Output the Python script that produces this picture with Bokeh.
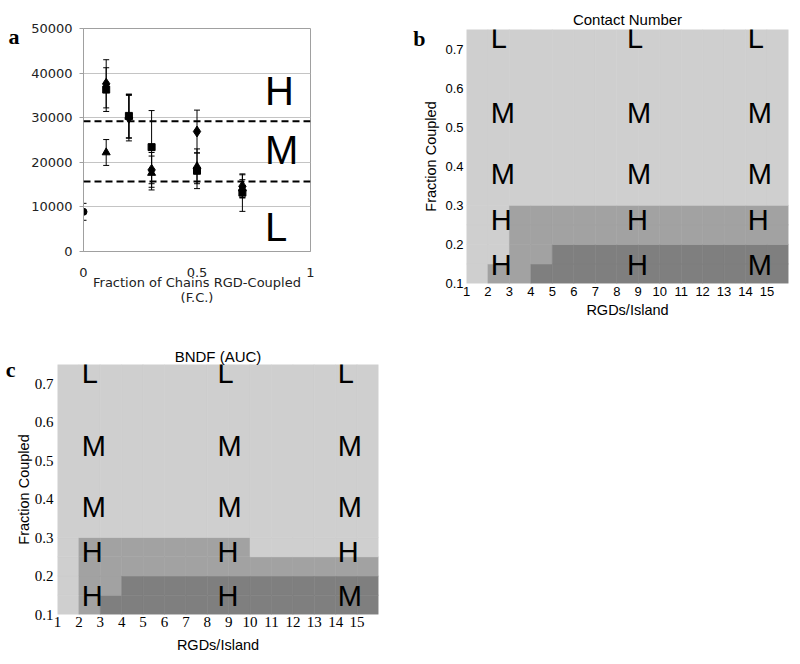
from bokeh.plotting import figure
from bokeh.models import (Range1d, Span, Whisker, TeeHead, ColumnDataSource, LinearAxis,
                          FixedTicker, NumeralTickFormatter, CustomJSTickFormatter)
from bokeh.layouts import column, row
from bokeh.core.properties import value
from bokeh.embed import file_html
from bokeh.resources import INLINE

# ---------------- Panel a data ----------------
fc = [0.1, 0.2, 0.3, 0.5, 0.7]
diamond_y = [37600, 30000, 18300, 26900, 14600]
diamond_err = [5400, 5200, 3900, 4800, 2600]
square_y = [36300, 30400, 23400, 18100, 13200]
square_err = [4900, 4900, 8200, 4000, 4200]
triangle_y = [22200, 30200, 17600, 19100, 14100]
triangle_err = [2900, 4800, 3800, 3900, 2000]
control_x = [0.0]
control_y = [8900]
control_err = [1900]
thresholds = [15700, 29200]
a_x_ticks = [0, 0.5, 1]
a_y_ticks = [0, 10000, 20000, 30000, 40000, 50000]
band_letters = ["H", "M", "L"]
band_letter_y = [36000, 22650, 5450]

# ---------------- Panels b / c data ----------------
rgd_edges = list(range(1, 17))            # RGDs/Island bins 1..16
fc_edges = [0.10, 0.15, 0.20, 0.25, 0.30, 0.75]
rgd_ticks = list(range(1, 16))
fc_ticks = [0.1, 0.2, 0.3, 0.4, 0.5, 0.6, 0.7]
# level 0 = light, 1 = medium, 2 = dark; rows bottom (0.10) to top
contact_levels = [
    [0, 1, 1, 2, 2, 2, 2, 2, 2, 2, 2, 2, 2, 2, 2],
    [0, 0, 1, 1, 2, 2, 2, 2, 2, 2, 2, 2, 2, 2, 2],
    [0, 0, 1, 1, 1, 1, 1, 1, 1, 1, 1, 1, 1, 1, 1],
    [0, 0, 1, 1, 1, 1, 1, 1, 1, 1, 1, 1, 1, 1, 1],
    [0] * 15,
]
bdnf_levels = [
    [0, 1, 2, 2, 2, 2, 2, 2, 2, 2, 2, 2, 2, 2, 2],
    [0, 1, 1, 2, 2, 2, 2, 2, 2, 2, 2, 2, 2, 2, 2],
    [0, 1, 1, 1, 1, 1, 1, 1, 1, 1, 1, 1, 1, 1, 1],
    [0, 1, 1, 1, 1, 1, 1, 1, 1, 0, 0, 0, 0, 0, 0],
    [0] * 15,
]
letter_rgd = [2.13, 8.48, 14.1]
letter_fc = [0.727, 0.537, 0.38, 0.263, 0.147]
contact_letters = [["L", "L", "L"], ["M", "M", "M"], ["M", "M", "M"],
                   ["H", "H", "H"], ["H", "H", "M"]]
bdnf_letters = [["L", "L", "L"], ["M", "M", "M"], ["M", "M", "M"],
                ["H", "H", "H"], ["H", "H", "M"]]
shades = ["#cfcfcf", "#a2a2a2", "#7f7f7f"]

SANS = "Liberation Sans"
SERIF = "Liberation Serif"


def panel_letter_axis(p, letter, y, standoff):
    ax = LinearAxis(ticker=FixedTicker(ticks=[y]),
                    formatter=CustomJSTickFormatter(code='return "%s"' % letter))
    ax.axis_line_color = None
    ax.major_tick_line_color = None
    ax.minor_tick_line_color = None
    ax.major_tick_out = 0
    ax.major_tick_in = 0
    ax.major_label_text_font = SERIF
    ax.major_label_text_font_style = "bold"
    ax.major_label_text_font_size = "22px"
    ax.major_label_text_color = "black"
    ax.major_label_standoff = standoff
    p.add_layout(ax, "left")


# =============== Panel a ===============
pa = figure(width=400, height=320, x_range=Range1d(0, 1), y_range=Range1d(0, 50000),
            output_backend="svg", toolbar_location=None,
            min_border_left=83, min_border_right=90, min_border_top=28, min_border_bottom=69)
pa.outline_line_color = "#a0a0a0"
pa.xgrid.visible = False
pa.ygrid.ticker = FixedTicker(ticks=a_y_ticks)
pa.ygrid.grid_line_color = "#c4c4c4"
pa.xaxis.ticker = FixedTicker(ticks=a_x_ticks)
pa.yaxis.ticker = FixedTicker(ticks=a_y_ticks)
pa.xaxis.formatter = NumeralTickFormatter(format="0.[0]")
pa.yaxis.formatter = NumeralTickFormatter(format="0")
for ax in (pa.xaxis, pa.yaxis):
    ax.axis_line_color = "#a0a0a0"
    ax.minor_tick_line_color = None
    ax.major_label_text_font = "DejaVu Sans"
    ax.major_label_text_font_size = "13px"
    ax.major_label_text_color = "#222222"
pa.xaxis.major_tick_line_color = None
pa.xaxis.major_tick_out = 0
pa.xaxis.major_tick_in = 0
pa.xaxis.major_label_standoff = 16
pa.xaxis.axis_label = "Fraction of Chains RGD-Coupled\n(F.C.)"
pa.xaxis.axis_label_text_font = "DejaVu Sans"
pa.xaxis.axis_label_text_font_size = "13px"
pa.xaxis.axis_label_text_font_style = "normal"
pa.xaxis.axis_label_text_color = "#222222"
pa.xaxis.axis_label_text_line_height = 1.0
pa.xaxis.axis_label_standoff = -5
pa.yaxis.major_tick_line_color = "#a0a0a0"
pa.yaxis.major_tick_out = 4
pa.yaxis.major_tick_in = 0
pa.yaxis.major_label_standoff = 7
panel_letter_axis(pa, "a", 48200, 9)

for yv in thresholds:
    pa.add_layout(Span(location=yv, dimension="width", line_color="black",
                       line_width=2, line_dash="7 4"))

series = [
    (fc, diamond_y, diamond_err, "diamond", 11),
    (fc, square_y, square_err, "square", 7),
    (fc, triangle_y, triangle_err, "triangle", 8),
    (control_x, control_y, control_err, "circle", 7),
]
for xs, ys, es, mk, sz in series:
    src = ColumnDataSource(dict(x=xs, y=ys,
                                upper=[y + e for y, e in zip(ys, es)],
                                lower=[y - e for y, e in zip(ys, es)]))
    pa.add_layout(Whisker(source=src, base="x", upper="upper", lower="lower",
                          line_color="black", line_width=1,
                          upper_head=TeeHead(size=6, line_color="black", line_width=1),
                          lower_head=TeeHead(size=6, line_color="black", line_width=1)))
    pa.scatter(x="x", y="y", source=src, marker=mk, size=sz,
               fill_color="black", line_color="black")

pa.text(x=[0.8] * 3, y=band_letter_y, text=band_letters,
        text_font=value(SANS), text_font_size="40px", text_color="black",
        text_align="left", text_baseline="middle")


# =============== Panels b / c ===============
def heat_panel(levels, letters, title, tick_font, tick_size, width, height, borders,
               tick_std, label_std, title_std, title_off, letter, letter_y, letter_std):
    bl, br, bt, bb = borders
    p = figure(width=width, height=height, x_range=Range1d(1, 16), y_range=Range1d(0.1, 0.75),
               output_backend="svg", toolbar_location=None,
               min_border_left=bl, min_border_right=br, min_border_top=bt, min_border_bottom=bb)
    p.outline_line_color = None
    p.grid.visible = False
    p.title.text = title
    p.title.align = "center"
    p.title.offset = title_off
    p.title.text_font = SANS
    p.title.text_font_size = "15px"
    p.title.text_font_style = "normal"
    p.title.text_color = "black"
    p.title.standoff = title_std
    x0, x1, y0, y1, col = [], [], [], [], []
    for r in range(len(fc_edges) - 1):
        for c in range(len(rgd_edges) - 1):
            x0.append(rgd_edges[c]); x1.append(rgd_edges[c + 1])
            y0.append(fc_edges[r]); y1.append(fc_edges[r + 1])
            col.append(shades[levels[r][c]])
    p.quad(left=x0, right=x1, bottom=y0, top=y1, fill_color=col, line_color=col, line_width=0.6)
    lx, ly, lt = [], [], []
    for r, yv in enumerate(letter_fc):
        for c, xv in enumerate(letter_rgd):
            lx.append(xv); ly.append(yv); lt.append(letters[r][c])
    p.text(x=lx, y=ly, text=lt, text_font=value(SANS), text_font_size="29px",
           text_color="black", text_align="left", text_baseline="middle")
    p.xaxis.ticker = FixedTicker(ticks=rgd_ticks)
    p.yaxis.ticker = FixedTicker(ticks=fc_ticks)
    p.xaxis.formatter = NumeralTickFormatter(format="0")
    p.yaxis.formatter = NumeralTickFormatter(format="0.0")
    p.xaxis.axis_label = "RGDs/Island"
    p.yaxis.axis_label = "Fraction Coupled"
    for ax in (p.xaxis, p.yaxis):
        ax.axis_line_color = None
        ax.major_tick_line_color = None
        ax.minor_tick_line_color = None
        ax.major_tick_out = 0
        ax.major_tick_in = 0
        ax.major_label_text_font = tick_font
        ax.major_label_text_font_size = tick_size
        ax.major_label_text_color = "black"
        ax.axis_label_text_font = SANS
        ax.axis_label_text_font_size = "14.5px"
        ax.axis_label_text_font_style = "normal"
        ax.axis_label_text_color = "black"
    p.xaxis.major_label_standoff = tick_std[0]
    p.yaxis.major_label_standoff = tick_std[1]
    p.xaxis.axis_label_standoff = label_std[0]
    p.yaxis.axis_label_standoff = label_std[1]
    panel_letter_axis(p, letter, letter_y, letter_std)
    return p


pb = heat_panel(contact_levels, contact_letters, "Contact Number", SANS, "13px",
                400, 320, (66, 12, 29, 36), (3, 3), (3, 3), 3, 0, "b", 0.728, -5)
pc = heat_panel(bdnf_levels, bdnf_letters, "BNDF (AUC)", SERIF, "15px",
                400, 340, (57, 22, 44, 46), (2, 4), (7, 0), 0, 2.5, "c", 0.737, -3)

layout = column(row(column(pa), column(pb)), column(pc))
open("out.html", "w").write(file_html(layout, INLINE))
